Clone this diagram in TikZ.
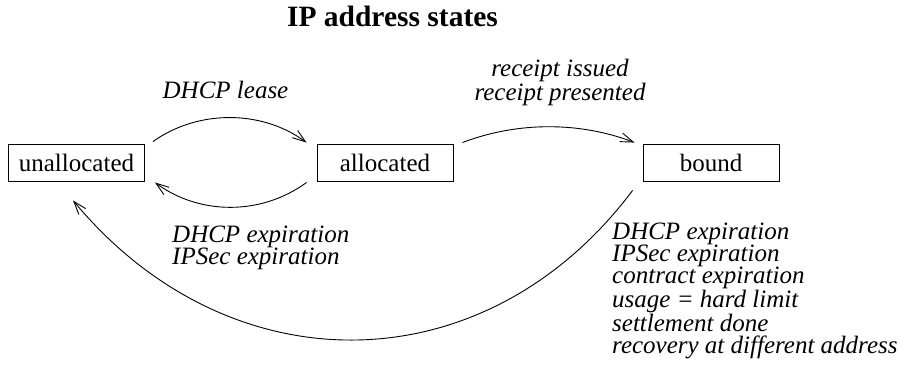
\documentclass[tikz,border=0pt]{standalone}
\usepackage{fontspec}
\setmainfont{Liberation Serif}
\usetikzlibrary{arrows.meta}
\begin{document}
\begin{tikzpicture}[x=1pt,y=-1pt,
  state/.style={draw,line width=0.9pt,minimum width=136pt,minimum height=37pt,inner sep=0pt,
    font=\fontsize{25}{22.3}\selectfont},
  lbl/.style={inner sep=0pt,font=\fontsize{25}{22.3}\selectfont\itshape},
  arr/.style={line width=0.9pt,-{Straight Barb[length=13pt,width=9pt,line width=0.9pt]}}]
\useasboundingbox (0,0) rectangle (909,388);
\node[anchor=base,inner sep=0pt,font=\fontsize{29.5}{32}\selectfont\bfseries] (title) at (392.5,27) {IP address states};
\node[state] (unal) at (76.5,162.5) {unallocated};
\node[state] (alloc) at (385,162.5) {allocated};
\node[state] (bound) at (711,162.5) {bound};
\node[lbl,anchor=base] (lease) at (225.5,98) {DHCP lease};
\node[lbl,anchor=base,align=center] (receipt) at (560,100) {receipt issued\\receipt presented};
\node[lbl,anchor=base west,align=left] (backlbl) at (172,264.3) {DHCP expiration\\IPSec expiration};
\node[lbl,anchor=base west,align=left] (reclbl) at (612,353.5) {DHCP expiration\\IPSec expiration\\contract expiration\\usage = hard limit\\settlement done\\recovery at different address};
\draw[arr] ([shift={(8,-2)}]unal.north east) .. controls +(45,-32) and +(-45,-33) .. ([shift={(-10,-1)}]alloc.north west);
\draw[arr] ([shift={(-10,1)}]alloc.south west) .. controls +(-45,33) and +(45,33) .. ([shift={(10,1)}]unal.south east);
\draw[arr] ([shift={(9,-1)}]alloc.north east) .. controls +(55,-21) and +(-55,-21) .. ([shift={(-8,-1)}]bound.north west);
\draw[arr] ([shift={(-10,9)}]bound.south west) .. controls +(-147,196) and +(157,189) .. ([shift={(65,19)}]unal.south west);
\end{tikzpicture}
\end{document}
